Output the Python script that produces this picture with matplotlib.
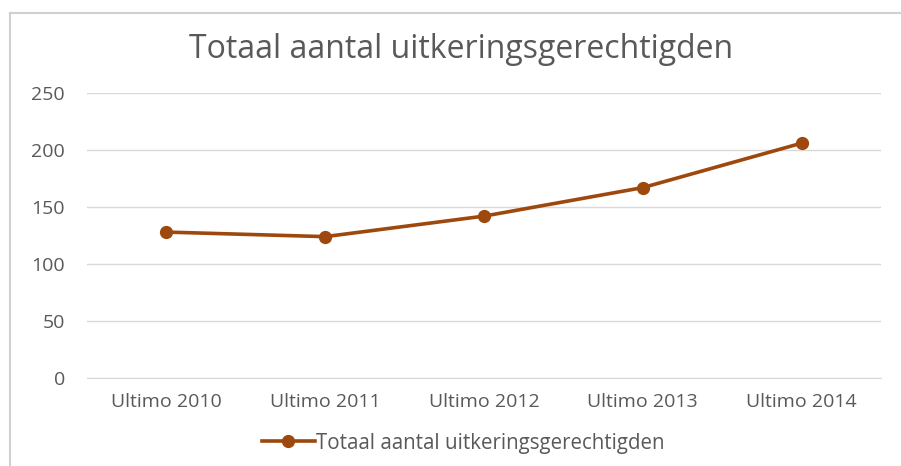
import matplotlib
matplotlib.use('Agg')
import matplotlib.pyplot as plt
from matplotlib.lines import Line2D

categories = ['Ultimo 2010', 'Ultimo 2011', 'Ultimo 2012', 'Ultimo 2013', 'Ultimo 2014']
values = [128, 124, 142, 167, 206]
y_ticks = [0, 50, 100, 150, 200, 250]
title = 'Totaal aantal uitkeringsgerechtigden'
series_name = 'Totaal aantal uitkeringsgerechtigden'

line_color = '#9E480E'
text_color = '#595959'
grid_color = '#D9D9D9'

plt.rcParams['font.family'] = ['Open Sans', 'DejaVu Sans']

W, H = 901, 466
fig = plt.figure(figsize=(W / 100, H / 100), dpi=100)
fig.patch.set_facecolor('white')

# plot area in pixel coords -> figure fractions
x0, x1 = 87, 881
y_top, y_bot = 93, 378
ax = fig.add_axes([x0 / W, 1 - y_bot / H, (x1 - x0) / W, (y_bot - y_top) / H])

xs = list(range(len(categories)))
ax.plot(xs, values, color=line_color, lw=2.6, marker='o', ms=8.5,
        markeredgecolor=line_color, markerfacecolor=line_color, zorder=3,
        label=series_name)

ax.set_xlim(-0.5, len(categories) - 0.5)
ax.set_ylim(0, 250)
ax.set_yticks(y_ticks)
ax.set_xticks(xs)
ax.set_xticklabels(categories)
ax.yaxis.grid(True, color=grid_color, lw=1)
ax.set_axisbelow(True)
for s in ['top', 'right', 'left']:
    ax.spines[s].set_visible(False)
ax.spines['bottom'].set_color(grid_color)
ax.tick_params(axis='both', length=0, labelsize=14, colors=text_color)
ax.tick_params(axis='y', pad=16)
ax.tick_params(axis='x', pad=11)

fig.text(461 / W, 1 - 49 / H, title, ha='center', va='center',
         fontsize=23, color=text_color)

leg = fig.legend(loc='center', bbox_to_anchor=(463 / W, 1 - 443 / H),
                 frameon=False, fontsize=14.8, handlelength=2.6,
                 handletextpad=0.05)
for t in leg.get_texts():
    t.set_color(text_color)

# outer chart border (left and top visible in the crop)
fig.add_artist(Line2D([9.5 / W, 9.5 / W], [0, 1 - 13 / H], transform=fig.transFigure,
                      color='#D0D0D0', lw=1.5))
fig.add_artist(Line2D([9.5 / W, 1], [1 - 13 / H, 1 - 13 / H], transform=fig.transFigure,
                      color='#D0D0D0', lw=1.5))

fig.savefig('out.png', dpi=100)
